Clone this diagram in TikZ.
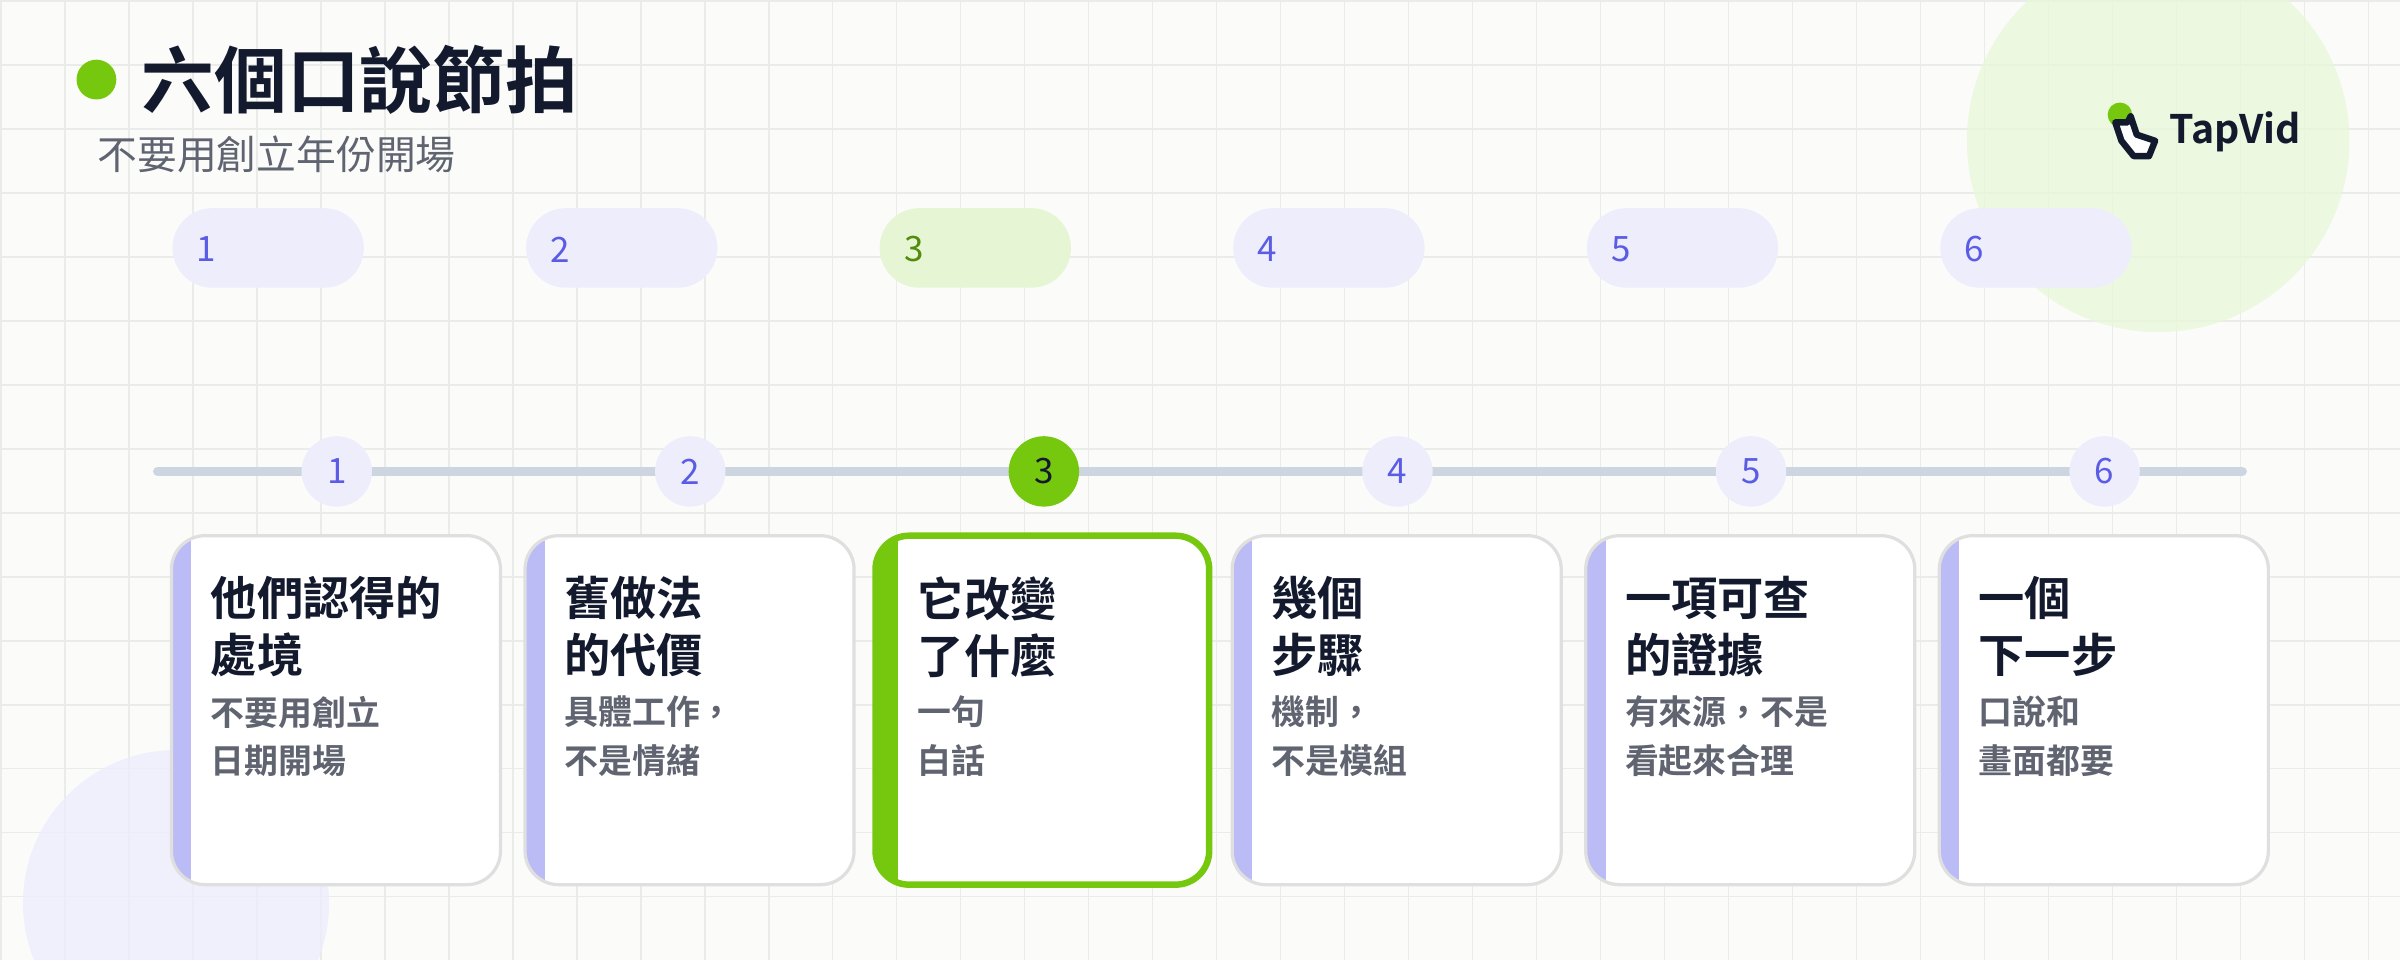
\documentclass[tikz,border=0pt]{standalone}
\usepackage{fontspec}
\setmainfont{Noto Sans CJK TC}[BoldFont={Noto Sans CJK TC Bold}]
\usetikzlibrary{positioning}
\definecolor{bgc}{HTML}{FBFCFA}
\definecolor{gridc}{HTML}{E9ECE8}
\definecolor{accent}{HTML}{76C80F}
\definecolor{lav}{HTML}{EDEDFC}
\definecolor{lavbar}{HTML}{BBBBF5}
\definecolor{numc}{HTML}{5B5CE6}
\definecolor{ink}{HTML}{141A2E}
\definecolor{greyt}{HTML}{5F6470}
\definecolor{linec}{HTML}{CCD5E0}
\tikzset{
  pill/.style={fill=#1,rounded corners=2.6mm,minimum width=12.5mm,minimum height=5.2mm,inner sep=0pt},
  num/.style={font=\fontsize{6.5}{7}\selectfont,text=numc},
  dot/.style={circle,fill=lav,minimum size=4.6mm,inner sep=0pt,font=\fontsize{6.5}{7}\selectfont,text=numc},
  head/.style={font=\fontsize{8.6}{10.6}\selectfont\bfseries,text=ink,anchor=north west,align=left,inner sep=0pt},
  sub/.style={font=\fontsize{6.3}{9}\selectfont\bfseries,text=greyt,anchor=north west,align=left,inner sep=0pt}
}
\begin{document}
\begin{tikzpicture}[x=0.1mm,y=-0.1mm]
\useasboundingbox (0,0) rectangle (1568,627);
\fill[bgc] (0,0) rectangle (1568,627);
\foreach \g in {0,...,37} \draw[gridc,line width=0.25pt] (\g*41.8+0.7,0) -- (\g*41.8+0.7,627);
\foreach \g in {0,...,15} \draw[gridc,line width=0.25pt] (0,\g*41.8+0.7) -- (1568,\g*41.8+0.7);
% Decorative circles
\fill[accent!15,opacity=0.8] (1410,92) circle (125);
\fill[lav,opacity=0.8] (115,590) circle (100);
% Title
\fill[accent] (63,52) circle (13);
\node[anchor=west,inner sep=0pt,font=\fontsize{13.5}{15}\selectfont\bfseries,text=ink] (title) at (92,52) {六個口說節拍};
\node[anchor=west,inner sep=0pt,font=\fontsize{7.4}{8}\selectfont,text=greyt] (subtitle) at (63,101) {不要用創立年份開場};
% Logo
\fill[accent] (1385,75) circle (8);
\draw[ink,line width=1.2pt,line join=round,fill=white] (1382,80) -- (1390,80) -- (1392,76) -- (1396,88) -- (1408,92) -- (1404,102) -- (1394,102) -- (1386,92) -- cycle;
\node[anchor=west,inner sep=0pt,font=\fontsize{7.3}{8}\selectfont\bfseries,text=ink] (logo) at (1417,86) {TapVid};
% Timeline
\coordinate (tl0) at (103,308);
\coordinate (tl1) at (1465,308);
\draw[line width=1.7pt,line cap=round,linec] (tl0) -- (tl1);
\foreach \i/\h/\s in {1/{他們認得的\\處境}/{不要用創立\\日期開場},
                      2/{舊做法\\的代價}/{具體工作，\\不是情緒},
                      3/{它改變\\了什麼}/{一句\\白話},
                      4/{幾個\\步驟}/{機制，\\不是模組},
                      5/{一項可查\\的證據}/{有來源，不是\\看起來合理},
                      6/{一個\\下一步}/{口說和\\畫面都要}}{
  \pgfmathsetmacro{\xo}{112+231*(\i-1)}
  \ifnum\i=3
    \node[pill=accent!18,anchor=west] (pill\i) at (\xo,162) {};
    \node[num,text=accent!70!black] at (\xo+23,163) {\i};
    \node[dot,fill=accent,text=ink] (step\i) at (\xo+108,308) {\i};
    \begin{scope}
      \clip[rounded corners=2.2mm] (\xo-2,350) rectangle (\xo+216,578);
      \fill[white] (\xo-4,348) rectangle (\xo+218,580);
      \fill[accent] (\xo-4,348) rectangle (\xo+13,580);
    \end{scope}
    \draw[accent,line width=1.2pt,rounded corners=2.2mm] (\xo-2,350) rectangle (\xo+216,578);
  \else
    \node[pill=lav,anchor=west] (pill\i) at (\xo,162) {};
    \node[num] at (\xo+23,163) {\i};
    \node[dot] (step\i) at (\xo+108,308) {\i};
    \begin{scope}
      \clip[rounded corners=2.2mm] (\xo,350) rectangle (\xo+215,578);
      \fill[white] (\xo,350) rectangle (\xo+215,578);
      \fill[lavbar] (\xo,350) rectangle (\xo+13,578);
    \end{scope}
    \draw[gray!25,line width=0.6pt,rounded corners=2.2mm] (\xo,350) rectangle (\xo+215,578);
  \fi
  \node[head] (head\i) at (\xo+25,376) {\h};
  \node[sub] (sub\i) at (\xo+25,454) {\s};
}
\end{tikzpicture}
\end{document}
